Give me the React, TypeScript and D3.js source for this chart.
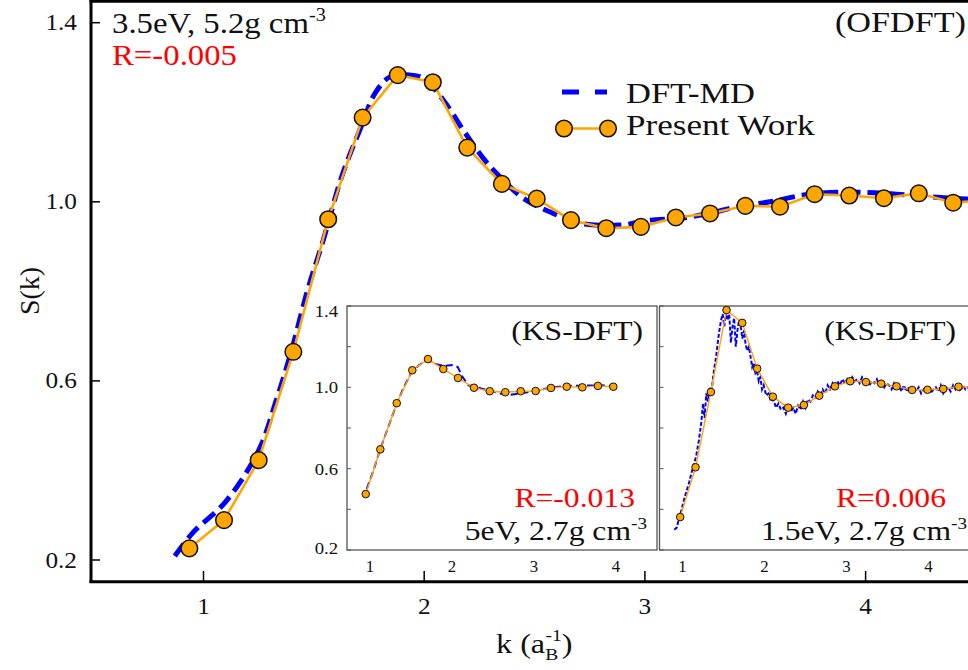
import React from "react";
import * as d3 from "d3";

// ---- Main panel (OFDFT) ----
const mainWorkK = [0.936, 1.093, 1.25, 1.407, 1.565, 1.721, 1.88, 2.039, 2.195, 2.352, 2.51, 2.665, 2.825, 2.982, 3.14, 3.295, 3.455, 3.612, 3.769, 3.926, 4.083, 4.241, 4.397, 4.554];
const mainWorkS = [0.226, 0.289, 0.423, 0.665, 0.961, 1.188, 1.283, 1.267, 1.121, 1.04, 1.007, 0.959, 0.941, 0.944, 0.965, 0.974, 0.991, 0.989, 1.017, 1.014, 1.008, 1.019, 0.998, 1.004];
const mainMdK = [0.87, 0.95, 1.1, 1.25, 1.33, 1.4, 1.47, 1.543, 1.626, 1.717, 1.777, 1.845, 1.936, 1.996, 2.087, 2.177, 2.268, 2.343, 2.449, 2.585, 2.706, 2.887, 3.023, 3.159, 3.3, 3.416, 3.567, 3.718, 3.839, 3.99, 4.141, 4.292, 4.458, 4.55];
const mainMdS = [0.209, 0.26, 0.33, 0.445, 0.557, 0.67, 0.8, 0.915, 1.056, 1.171, 1.242, 1.279, 1.283, 1.276, 1.227, 1.16, 1.097, 1.056, 1.008, 0.974, 0.952, 0.948, 0.959, 0.963, 0.975, 0.989, 1.0, 1.015, 1.021, 1.021, 1.017, 1.011, 1.006, 1.003];
const mainXTicks = [1, 2, 3, 4];
const mainYTicks = [0.2, 0.6, 1.0, 1.4];

// ---- Inset 1 (KS-DFT, 5eV) ----
const in1WorkK = [0.948, 1.126, 1.326, 1.516, 1.707, 1.894, 2.073, 2.268, 2.46, 2.65, 2.838, 3.02, 3.207, 3.399, 3.589, 3.78, 3.967];
const in1WorkS = [0.475, 0.695, 0.922, 1.084, 1.139, 1.09, 1.046, 0.998, 0.981, 0.976, 0.981, 0.982, 0.997, 1.003, 1.0, 1.007, 1.003];
const in1MdK = [0.96, 1.05, 1.12, 1.2, 1.3, 1.4, 1.5, 1.6, 1.7, 1.8, 1.9, 2.0, 2.07, 2.13, 2.2, 2.3, 2.4, 2.5, 2.6, 2.7, 2.8, 2.9, 3.0, 3.1, 3.2, 3.3, 3.4, 3.5, 3.6, 3.7, 3.8, 3.9, 3.97];
const in1MdS = [0.5, 0.6, 0.69, 0.78, 0.89, 0.99, 1.07, 1.11, 1.135, 1.115, 1.105, 1.11, 1.1, 1.05, 1.01, 1.0, 0.99, 0.98, 0.968, 0.963, 0.968, 0.975, 0.982, 0.99, 0.998, 1.003, 1.007, 1.008, 1.008, 1.009, 1.01, 1.008, 1.005];

// ---- Inset 2 (KS-DFT, 1.5eV) ----
const in2WorkK = [0.972, 1.159, 1.346, 1.537, 1.728, 1.911, 2.102, 2.289, 2.48, 2.667, 2.859, 3.045, 3.237, 3.423, 3.61, 3.8, 3.988, 4.18, 4.366, 4.55];
const in2WorkS = [0.362, 0.607, 0.977, 1.38, 1.317, 1.092, 0.954, 0.9, 0.913, 0.959, 1.005, 1.03, 1.026, 1.018, 1.005, 0.987, 0.988, 0.992, 1.003, 1.0];
const in2MdK = [0.9, 0.93, 0.96, 0.99, 1.02, 1.05, 1.08, 1.11, 1.14, 1.17, 1.2, 1.23, 1.25, 1.27, 1.29, 1.31, 1.33, 1.35, 1.37, 1.39, 1.41, 1.43, 1.45, 1.47, 1.49, 1.51, 1.53, 1.55, 1.57, 1.59, 1.61, 1.63, 1.65, 1.67, 1.69, 1.71, 1.73, 1.75, 1.77, 1.79, 1.81, 1.83, 1.85, 1.87, 1.89, 1.91, 1.93, 1.95, 1.97, 1.99, 2.02, 2.05, 2.08, 2.11, 2.14, 2.17, 2.2, 2.23, 2.26, 2.29, 2.32, 2.35, 2.38, 2.41, 2.44, 2.47, 2.5, 2.53, 2.56, 2.59, 2.62, 2.65, 2.68, 2.71, 2.74, 2.77, 2.8, 2.83, 2.86, 2.89, 2.92, 2.95, 2.98, 3.01, 3.04, 3.07, 3.1, 3.13, 3.16, 3.19, 3.22, 3.25, 3.28, 3.31, 3.34, 3.37, 3.4, 3.43, 3.46, 3.49, 3.52, 3.55, 3.58, 3.61, 3.64, 3.67, 3.7, 3.73, 3.76, 3.79, 3.82, 3.85, 3.88, 3.91, 3.94, 3.97, 4.0, 4.03, 4.06, 4.09, 4.12, 4.15, 4.18, 4.21, 4.24, 4.27, 4.3, 4.33, 4.36, 4.39, 4.42, 4.45, 4.48, 4.51, 4.54, 4.57, 4.6];
const in2MdS = [0.3, 0.31, 0.36, 0.4, 0.45, 0.49, 0.53, 0.58, 0.62, 0.67, 0.74, 0.83, 0.92, 0.85, 0.97, 0.93, 1.0, 0.96, 1.04, 1.1, 1.15, 1.22, 1.28, 1.33, 1.36, 1.3, 1.37, 1.33, 1.36, 1.22, 1.3, 1.34, 1.2, 1.28, 1.33, 1.3, 1.24, 1.28, 1.21, 1.18, 1.2, 1.15, 1.1, 1.12, 1.07, 1.08, 1.03, 1.05, 0.99, 1.01, 0.96, 0.97, 0.93, 0.94, 0.9, 0.92, 0.89, 0.9, 0.87, 0.91, 0.88, 0.9, 0.87, 0.91, 0.89, 0.93, 0.9, 0.94, 0.93, 0.96, 0.95, 0.98, 0.96, 0.99, 0.97, 1.01, 0.99, 1.02, 1.0, 1.03, 1.01, 1.04, 1.02, 1.04, 1.02, 1.05, 1.03, 1.04, 1.02, 1.05, 1.03, 1.04, 1.01, 1.03, 1.02, 1.04, 1.01, 1.03, 1.0, 1.02, 1.01, 0.99, 1.02, 1.0, 1.01, 0.98, 1.01, 0.98, 1.0, 0.97, 1.0, 0.98, 1.0, 0.97, 0.99, 0.98, 1.0, 0.97, 0.99, 1.0, 0.98, 1.01, 0.97, 0.99, 1.0, 0.98, 1.01, 0.99, 1.0, 0.98, 1.01, 0.99, 1.0, 0.98, 1.0, 0.99, 1.0];

const insetXTicks = [1, 2, 3, 4];
const insetYTicks = [0.2, 0.4, 0.6, 0.8, 1.0, 1.2, 1.4];
const insetYLabels = [0.2, 0.6, 1.0, 1.4];

const FONT = "'Liberation Serif', 'Times New Roman', serif";
const ORANGE = "#FFA500";
const BLUE = "#0000FF";
const SX = 1.13;

type STProps = {
  x: number;
  y: number;
  size: number;
  anchor?: "start" | "middle" | "end";
  fill?: string;
  sx?: number;
  children: React.ReactNode;
};

function ST({ x, y, size, anchor = "start", fill = "#111", sx = SX, children }: STProps) {
  return (
    <text
      transform={`translate(${x},${y}) scale(${sx},1)`}
      textAnchor={anchor}
      fontSize={size}
      fontFamily={FONT}
      fill={fill}
    >
      {children}
    </text>
  );
}

type InsetProps = {
  left: number;
  right: number;
  workK: number[];
  workS: number[];
  mdK: number[];
  mdS: number[];
  showYLabels: boolean;
  mdDash: string;
  clipId: string;
};

function Inset({ left, right, workK, workS, mdK, mdS, showYLabels, mdDash, clipId }: InsetProps) {
  const top = 306;
  const bottom = 550;
  const x = d3.scaleLinear().domain([1, 4]).range([left + 23, left + 269]);
  const y = d3.scaleLinear().domain([0.2, 1.4]).range([bottom, top]);
  const line = d3
    .line<[number, number]>()
    .x((d) => x(d[0]))
    .y((d) => y(d[1]));
  const md = mdK.map((k, i) => [k, mdS[i]] as [number, number]);
  const work = workK.map((k, i) => [k, workS[i]] as [number, number]);
  return (
    <g>
      <defs>
        <clipPath id={clipId}>
          <rect x={left} y={top} width={right - left} height={bottom - top} />
        </clipPath>
      </defs>
      <rect x={left} y={top} width={right - left} height={bottom - top} fill="#fff" stroke="#555" strokeWidth={1.3} />
      {insetYTicks.map((t) => (
        <line key={t} x1={left} x2={left + 4} y1={y(t)} y2={y(t)} stroke="#555" strokeWidth={1} />
      ))}
      {showYLabels &&
        insetYLabels.map((t) => (
          <ST key={t} x={left - 9} y={y(t) + (t === 1.4 ? 11 : t === 0.2 ? 4 : 6)} anchor="end" size={17} sx={1.1}>
            {t.toFixed(1)}
          </ST>
        ))}
      {insetXTicks.map((t) => (
        <ST key={t} x={x(t)} y={572} anchor="middle" size={16} sx={1.05}>
          {t}
        </ST>
      ))}
      <g clipPath={`url(#${clipId})`}>
        <path d={line(md) || ""} fill="none" stroke={BLUE} strokeWidth={2} strokeDasharray={mdDash} />
        <path d={line(work) || ""} fill="none" stroke={ORANGE} strokeWidth={1.4} />
        {work.map((d, i) => (
          <circle key={i} cx={x(d[0])} cy={y(d[1])} r={3.8} fill={ORANGE} stroke="#111" strokeWidth={1} />
        ))}
      </g>
    </g>
  );
}

export default function App() {
  const x = d3.scaleLinear().domain([1, 4]).range([203.5, 865.6]);
  const y = d3.scaleLinear().domain([0.2, 1.4]).range([560, 22.7]);
  const lin = d3
    .line<[number, number]>()
    .x((d) => x(d[0]))
    .y((d) => y(d[1]));
  const smooth = d3
    .line<[number, number]>()
    .x((d) => x(d[0]))
    .y((d) => y(d[1]))
    .curve(d3.curveCatmullRom);
  const md = mainMdK.map((k, i) => [k, mainMdS[i]] as [number, number]);
  const work = mainWorkK.map((k, i) => [k, mainWorkS[i]] as [number, number]);

  return (
    <svg
      width={968}
      height={670}
      style={{ position: "absolute", left: 0, top: 0, background: "#fff" }}
      fontFamily={FONT}
    >
      <rect x={0} y={0} width={968} height={670} fill="#fff" />
      {/* main data */}
      <path d={smooth(md) || ""} fill="none" stroke={BLUE} strokeWidth={5} strokeDasharray="15,7" />
      <path d={lin(work) || ""} fill="none" stroke={ORANGE} strokeWidth={2.6} />
      {work.map((d, i) => (
        <circle key={i} cx={x(d[0])} cy={y(d[1])} r={8.3} fill={ORANGE} stroke="#111" strokeWidth={1.5} />
      ))}

      {/* frame */}
      <line x1={91} x2={91} y1={0} y2={583} stroke="#000" strokeWidth={3} />
      <line x1={89.5} x2={968} y1={1.3} y2={1.3} stroke="#000" strokeWidth={2.8} />
      <line x1={89.5} x2={968} y1={581.7} y2={581.7} stroke="#000" strokeWidth={3} />
      {mainYTicks.map((t) => (
        <g key={t}>
          <line x1={91} x2={100} y1={y(t)} y2={y(t)} stroke="#000" strokeWidth={1.5} />
          <ST x={77} y={y(t) + 7.5} anchor="end" size={23} sx={1.1}>
            {t.toFixed(1)}
          </ST>
        </g>
      ))}
      {mainXTicks.map((t) => (
        <g key={t}>
          <line x1={x(t)} x2={x(t)} y1={581} y2={571} stroke="#000" strokeWidth={1.5} />
          <ST x={x(t)} y={614} anchor="middle" size={23} sx={1.1}>
            {t}
          </ST>
        </g>
      ))}

      {/* insets */}
      <Inset left={347} right={657} workK={in1WorkK} workS={in1WorkS} mdK={in1MdK} mdS={in1MdS} showYLabels={true} mdDash="7,4" clipId="c1" />
      <Inset left={659.5} right={972} workK={in2WorkK} workS={in2WorkS} mdK={in2MdK} mdS={in2MdS} showYLabels={false} mdDash="4,2" clipId="c2" />

      {/* inset texts */}
      <ST x={643} y={340} anchor="end" size={28}>(KS-DFT)</ST>
      <ST x={635} y={507} anchor="end" size={28} fill="#ff0000">R=-0.013</ST>
      <ST x={647} y={540} anchor="end" size={28}>
        5eV, 2.7g cm<tspan dy={-11} fontSize={17}>-3</tspan>
      </ST>
      <ST x={956} y={340} anchor="end" size={28}>(KS-DFT)</ST>
      <ST x={946} y={507} anchor="end" size={28} fill="#ff0000">R=0.006</ST>
      <ST x={967} y={540} anchor="end" size={28}>
        1.5eV, 2.7g cm<tspan dy={-11} fontSize={17}>-3</tspan>
      </ST>

      {/* main annotations */}
      <ST x={112} y={33} size={29}>
        3.5eV, 5.2g cm<tspan dy={-12} fontSize={18}>-3</tspan>
      </ST>
      <ST x={112} y={65} size={29} fill="#ff0000">R=-0.005</ST>
      <ST x={966} y={32} anchor="end" size={30} sx={1.14}>(OFDFT)</ST>

      {/* legend */}
      <line x1={562} x2={607} y1={92} y2={92} stroke={BLUE} strokeWidth={5} strokeDasharray="17,16" />
      <ST x={626} y={103} size={30} sx={1.15}>DFT-MD</ST>
      <line x1={564} x2={608} y1={128.5} y2={128.5} stroke={ORANGE} strokeWidth={2.6} />
      <circle cx={564} cy={128.5} r={8.3} fill={ORANGE} stroke="#111" strokeWidth={1.5} />
      <circle cx={608} cy={128.5} r={8.3} fill={ORANGE} stroke="#111" strokeWidth={1.5} />
      <ST x={626} y={135} size={30} sx={1.17}>Present Work</ST>

      {/* axis titles */}
      <ST x={496} y={653} size={28} sx={1.15}>
        k (a<tspan dy={7} fontSize={17}>B</tspan>
        <tspan dx={-11} dy={-19} fontSize={17}>-1</tspan>
        <tspan dy={12} fontSize={28}>)</tspan>
      </ST>
      <text transform="translate(39,291) rotate(-90)" textAnchor="middle" fontSize={28} fill="#111">
        S(k)
      </text>
    </svg>
  );
}
